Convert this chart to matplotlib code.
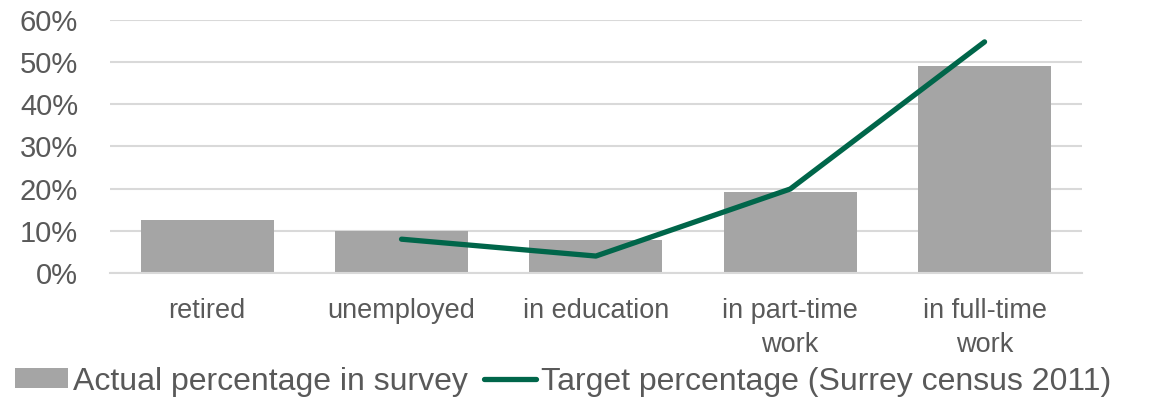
import matplotlib.pyplot as plt
import numpy as np

plt.rcParams['font.family'] = ['Liberation Sans', 'DejaVu Sans']

categories = ['retired', 'unemployed', 'in education', 'in part-time\nwork', 'in full-time\nwork']
actual = [12.6, 10.0, 7.8, 19.3, 49.1]
target_cats = [1, 2, 3, 4]
target = [8.0, 4.0, 19.9, 54.8]

text_col = '#595959'
fig = plt.figure(figsize=(11.52, 3.99), dpi=100)
ax = fig.add_axes([0.0955, 0.316, 0.8435, 0.634])

x = np.arange(len(categories))
bars = ax.bar(x, actual, width=0.685, color='#a5a5a5', zorder=2)
line, = ax.plot(target_cats, target, color='#00664a', lw=3.8, solid_capstyle='round',
                zorder=3)

ax.set_xlim(-0.5, 4.5)
ax.set_ylim(0, 60)
ax.set_yticks(np.arange(0, 61, 10))
ax.set_yticklabels([f'{v}%' for v in range(0, 61, 10)])
ax.set_xticks(x)
ax.set_xticklabels(categories, linespacing=1.38)
ax.grid(axis='y', color='#d9d9d9', lw=1.5, zorder=0)
for s in ['top', 'right', 'left']:
    ax.spines[s].set_visible(False)
ax.spines['bottom'].set_color('#d9d9d9')
ax.spines['bottom'].set_linewidth(1.5)
ax.tick_params(axis='y', length=0, labelsize=21, colors=text_col, pad=23)
ax.tick_params(axis='x', length=0, labelsize=19.5, colors=text_col, pad=18)

fig.legend([bars, line], ['Actual percentage in survey', 'Target percentage (Surrey census 2011)'],
           loc='lower left', bbox_to_anchor=(-0.009, -0.058), ncol=2, frameon=False,
           fontsize=23, labelcolor=text_col, handlelength=1.65, handleheight=0.6,
           handletextpad=0.15, columnspacing=0.5, borderpad=0.3)

fig.savefig('out.png', dpi=100)
